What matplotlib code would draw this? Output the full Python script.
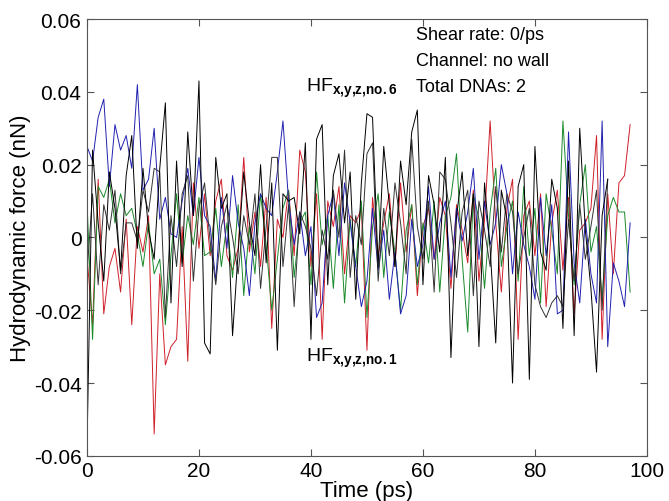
import matplotlib
matplotlib.use('Agg')
import matplotlib.pyplot as plt

plt.rcParams['font.family'] = ['Liberation Sans', 'DejaVu Sans']
plt.rcParams['mathtext.fontset'] = 'custom'
plt.rcParams['mathtext.rm'] = 'Liberation Sans'
plt.rcParams['mathtext.bf'] = 'Liberation Sans:bold'

# time points (ps)
t_long = list(range(98))
t_short = list(range(94))

# hydrodynamic force components (nN)
red = [-0.005, -0.024, 0.016, -0.021, -0.008, -0.003, -0.015, 0.005, -0.024, 0.003,
       -0.004, 0.006, -0.054, -0.010, -0.035, -0.030, -0.028, 0.003, -0.034, 0.015,
       -0.003, 0.012, -0.005, 0.010, 0.016, -0.005, -0.009, -0.003, 0.022, -0.004,
       0.007, -0.008, 0.011, -0.025, 0.005, 0.000, 0.013, -0.005, 0.024, 0.018,
       -0.008, 0.012, -0.028, 0.010, 0.003, 0.014, -0.010, 0.006, 0.004, 0.008,
       -0.031, 0.011, -0.005, 0.004, 0.012, -0.008, 0.015, -0.004, 0.009, -0.016,
       0.003, 0.008, -0.006, 0.011, 0.006, -0.014, 0.009, 0.002, -0.007, 0.013,
       -0.012, 0.005, 0.032, 0.004, -0.015, 0.008, 0.016, -0.028, 0.006, 0.010,
       -0.005, 0.012, -0.019, 0.004, 0.013, -0.009, 0.011, -0.021, 0.002, 0.004,
       0.008, 0.028, -0.028, 0.012, -0.010, 0.015, 0.017, 0.031]

green = [0.010, -0.028, 0.014, 0.011, 0.016, 0.004, 0.012, 0.006, 0.008, 0.001,
         -0.008, 0.004, -0.010, -0.006, -0.024, -0.005, 0.012, -0.007, 0.006, -0.002,
         0.011, -0.005, -0.004, 0.008, -0.008, 0.004, -0.011, 0.009, -0.016, 0.003,
         -0.010, 0.012, -0.002, -0.020, -0.006, 0.008, 0.013, -0.011, 0.004, 0.007,
         -0.013, 0.018, -0.002, 0.006, -0.014, 0.009, -0.018, 0.005, -0.008, 0.010,
         -0.022, 0.003, 0.012, -0.011, 0.007, -0.004, -0.020, 0.002, 0.009, -0.013,
         0.004, -0.007, 0.010, -0.015, 0.006, 0.011, 0.023, -0.006, -0.026, 0.012,
         0.005, -0.014, 0.007, 0.019, -0.008, 0.003, 0.010, -0.012, 0.014, -0.005,
         0.008, -0.018, 0.012, 0.002, -0.010, 0.032, 0.006, -0.013, 0.009, 0.020,
         -0.004, 0.003, -0.017, 0.006, 0.011, 0.007, 0.007, -0.015]

blue = [0.025, 0.021, 0.033, 0.038, 0.014, 0.031, 0.024, 0.028, 0.019, 0.042,
        0.013, 0.016, 0.030, 0.005, 0.011, 0.001, 0.000, 0.010, 0.019, 0.006,
        0.022, 0.006, 0.003, -0.012, 0.011, -0.003, 0.017, 0.004, -0.003, -0.016,
        0.004, 0.012, 0.008, 0.006, 0.018, 0.032, 0.010, -0.002, 0.007, -0.005,
        0.003, -0.022, -0.018, 0.006, 0.012, -0.005, 0.015, 0.004, -0.008, -0.019,
        -0.012, 0.008, -0.009, 0.002, -0.017, -0.004, -0.021, -0.016, 0.005, -0.008,
        -0.002, 0.014, -0.006, 0.004, 0.010, -0.011, 0.008, -0.001, 0.007, 0.019,
        -0.006, 0.010, -0.002, 0.004, 0.020, 0.012, -0.010, 0.007, -0.002, -0.008,
        -0.017, 0.011, -0.005, 0.009, -0.021, -0.020, 0.029, -0.007, -0.018, 0.005,
        -0.010, -0.018, 0.032, -0.030, -0.007, -0.012, -0.019, 0.004]

black1 = [-0.058, 0.024, 0.004, -0.012, 0.018, 0.008, -0.009, 0.017, 0.028, -0.003,
          0.019, 0.002, -0.006, 0.019, 0.037, -0.018, 0.021, -0.008, 0.029, 0.006,
          0.043, -0.029, -0.032, 0.022, 0.008, 0.012, -0.027, -0.004, 0.018, 0.004,
          -0.005, 0.020, -0.007, 0.015, -0.031, 0.012, 0.010, 0.011, 0.001, 0.026,
          -0.028, 0.027, 0.031, -0.013, 0.017, 0.023, 0.004, 0.018, -0.017, 0.015,
          0.034, 0.033, -0.008, 0.025, 0.009, -0.008, 0.021, 0.009, 0.029, 0.035,
          -0.013, 0.017, 0.009, -0.004, 0.022, -0.033, 0.006, 0.018, -0.005, 0.012,
          -0.030, 0.015, -0.003, -0.029, 0.013, 0.005, -0.040, 0.014, 0.020, -0.039,
          0.025, -0.004, -0.009, 0.016, 0.008, -0.025, 0.021, -0.027, 0.030, 0.002,
          -0.014, -0.037, 0.006, 0.016]

black2 = [-0.010, 0.012, -0.013, 0.009, 0.002, 0.013, -0.010, 0.004, 0.004, -0.001,
          0.013, 0.007, 0.019, 0.018, -0.022, 0.006, -0.008, 0.012, 0.017, -0.012,
          0.008, 0.015, -0.001, -0.013, 0.003, 0.009, 0.000, -0.010, 0.006, -0.002,
          0.012, -0.014, 0.003, 0.022, 0.022, -0.008, 0.009, -0.019, 0.007, 0.003,
          -0.003, -0.016, 0.002, -0.006, 0.013, 0.000, 0.024, -0.011, 0.006, -0.002,
          0.023, 0.026, -0.012, 0.008, -0.005, 0.015, 0.004, -0.010, 0.027, 0.003,
          -0.006, 0.010, -0.015, 0.018, 0.016, 0.004, -0.011, 0.007, 0.013, -0.016,
          0.010, 0.002, -0.008, 0.014, -0.004, 0.012, 0.007, -0.010, 0.000, 0.008,
          -0.013, -0.019, -0.022, -0.018, -0.016, -0.019, 0.005, -0.012, 0.009, -0.006,
          0.003, 0.013, -0.020, 0.016]

fig = plt.figure(figsize=(6.69, 5.02), dpi=100)
ax = fig.add_axes([0.130, 0.090, 0.837, 0.870])

lw = 0.7
ax.plot(t_long, red, color='#d0202a', lw=lw)
ax.plot(t_long, green, color='#1a8a2a', lw=lw)
ax.plot(t_long, blue, color='#2020b0', lw=lw)
ax.plot(t_short, black2, color='#333333', lw=lw)
ax.plot(t_short, black1, color='black', lw=lw)

ax.set_xlim(0, 100)
ax.set_ylim(-0.06, 0.06)
ax.set_xticks([0, 20, 40, 60, 80, 100])
ax.set_yticks([-0.06, -0.04, -0.02, 0, 0.02, 0.04, 0.06])
ax.set_yticklabels(['-0.06', '-0.04', '-0.02', '0', '0.02', '0.04', '0.06'])
ax.tick_params(direction='in', top=True, right=True, labelsize=15, length=5,
               color='#555555', pad=4)
for s in ax.spines.values():
    s.set_color('#555555')
    s.set_linewidth(0.8)

ax.set_xlabel('Time (ps)', fontsize=16, labelpad=0)
ax.set_ylabel('Hydrodynamic force (nN)', fontsize=16, labelpad=2)

sub6 = r'HF$_{\mathbf{x{,}y{,}z{,}no.6}}$'
sub1 = r'HF$_{\mathbf{x{,}y{,}z{,}no.1}}$'
ax.text(39.2, 0.0412, sub6, fontsize=14, va='center')
ax.text(39.2, -0.0330, sub1, fontsize=14, va='center')
ax.text(58.8, 0.0558, 'Shear rate: 0/ps', fontsize=13, va='center')
ax.text(58.8, 0.0487, 'Channel: no wall', fontsize=13, va='center')
ax.text(58.8, 0.0415, 'Total DNAs: 2', fontsize=13, va='center')

plt.savefig('out.png', dpi=100)
